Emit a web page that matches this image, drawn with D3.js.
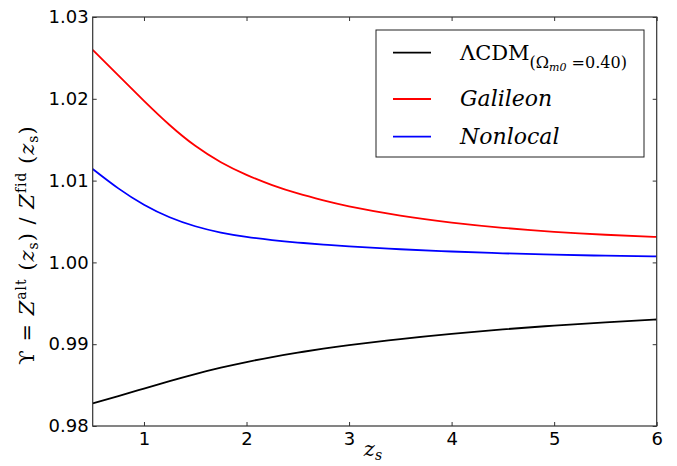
<!DOCTYPE html>
<html>
<head>
<meta charset="utf-8">
<script src="https://cdn.jsdelivr.net/npm/d3@7"></script>
<style>
  html, body { margin: 0; padding: 0; background: #fff; }
  svg { display: block; }
</style>
</head>
<body>
<svg id="chart" width="677" height="466"></svg>
<script>
const zs = [0.5, 0.75, 1, 1.25, 1.5, 1.75, 2, 2.25, 2.5, 2.75, 3, 3.5, 4, 4.5, 5, 5.5, 6];
const lcdm = [0.98278, 0.98366, 0.98458, 0.98549, 0.98635, 0.98713, 0.98782, 0.98843, 0.98897, 0.98945, 0.98988, 0.99063, 0.99127, 0.99181, 0.99227, 0.99267, 0.99302];
const galileon = [1.02597, 1.02285, 1.01975, 1.01680, 1.01425, 1.01225, 1.01070, 1.00945, 1.00843, 1.00758, 1.00686, 1.00572, 1.00487, 1.00423, 1.00374, 1.00338, 1.00311];
const nonlocal = [1.01142, 1.00905, 1.00705, 1.00552, 1.00442, 1.00365, 1.00312, 1.00273, 1.00243, 1.00218, 1.00197, 1.00161, 1.00133, 1.00111, 1.00094, 1.00082, 1.00074];
const xTicks = [1, 2, 3, 4, 5, 6];
const yTicks = [0.98, 0.99, 1.00, 1.01, 1.02, 1.03];
const legendLabels = ["ΛCDM", "Galileon", "Nonlocal"];

const svg = d3.select("#chart");
const L = 92.7, R = 656.7, T = 17, B = 426;
const x = d3.scaleLinear().domain([0.5, 6]).range([L, R]);
const y = d3.scaleLinear().domain([0.98, 1.03]).range([B, T]);

const series = [
  {vals: lcdm, color: "#000000"},
  {vals: galileon, color: "#ff0000"},
  {vals: nonlocal, color: "#0000ff"}
];

svg.append("clipPath").attr("id", "clip").append("rect")
  .attr("x", L).attr("y", T).attr("width", R - L).attr("height", B - T);

const line = d3.line().x(d => x(d[0])).y(d => y(d[1])).curve(d3.curveNatural);
const g = svg.append("g").attr("clip-path", "url(#clip)");
series.forEach(s => {
  g.append("path")
    .datum(zs.map((z, i) => [z, s.vals[i]]))
    .attr("d", line)
    .attr("fill", "none")
    .attr("stroke", s.color)
    .attr("stroke-width", 1.8);
});

const fmt = d3.format(".2f");
const axB = d3.axisBottom(x).tickValues(xTicks).tickSizeInner(-4).tickSizeOuter(0).tickPadding(6).tickFormat(d3.format("d"));
const axT = d3.axisTop(x).tickValues(xTicks).tickSizeInner(-4).tickSizeOuter(0).tickFormat("");
const axL = d3.axisLeft(y).tickValues(yTicks).tickSizeInner(-4).tickSizeOuter(0).tickPadding(4).tickFormat(fmt);
const axR = d3.axisRight(y).tickValues(yTicks).tickSizeInner(-4).tickSizeOuter(0).tickFormat("");

function styleAxis(sel) {
  sel.select(".domain").attr("stroke", "none");
  sel.selectAll(".tick line").attr("stroke", "#333").attr("stroke-width", 1);
  sel.selectAll("text").attr("font-family", "DejaVu Sans").attr("font-size", 18).attr("fill", "#000");
}
svg.append("g").attr("transform", `translate(0,${B})`).call(axB).call(styleAxis);
svg.append("g").attr("transform", `translate(0,${T})`).call(axT).call(styleAxis);
svg.append("g").attr("transform", `translate(${L},0)`).call(axL).call(styleAxis);
svg.append("g").attr("transform", `translate(${R},0)`).call(axR).call(styleAxis);

svg.append("rect").attr("x", L).attr("y", T).attr("width", R - L).attr("height", B - T)
  .attr("fill", "none").attr("stroke", "#333").attr("stroke-width", 1.2);

// X label
const xl = svg.append("text").attr("x", 373).attr("y", 456)
  .attr("font-family", "DejaVu Serif").attr("font-size", 21).attr("text-anchor", "middle");
xl.append("tspan").attr("font-style", "italic").text("z");
xl.append("tspan").attr("font-style", "italic").attr("font-size", 14).attr("dy", 4).text("s");

// Y label
const fs = 21;
const yl = svg.append("text")
  .attr("transform", "translate(34,245) rotate(-90)")
  .attr("font-family", "DejaVu Serif").attr("font-size", fs)
  .attr("letter-spacing", 1).attr("text-anchor", "middle");
const parts = [
  ["ϒ = ", "normal", 1, 0],
  ["Z", "italic", 1, 0],
  ["alt", "normal", 0.66, -0.4],
  [" (", "normal", 1, 0.4],
  ["z", "italic", 1, 0],
  ["s", "normal", 0.66, 0.2],
  [") / ", "normal", 1, -0.2],
  ["Z", "italic", 1, 0],
  ["fid", "normal", 0.66, -0.4],
  [" (", "normal", 1, 0.4],
  ["z", "italic", 1, 0],
  ["s", "normal", 0.66, 0.2],
  [")", "normal", 1, -0.2]
];
parts.forEach(p => {
  yl.append("tspan").attr("font-style", p[1]).attr("font-size", fs * p[2]).attr("dy", fs * p[3]).text(p[0]);
});

// Legend
const lg = svg.append("g");
lg.append("rect").attr("x", 376).attr("y", 30).attr("width", 268).attr("height", 127)
  .attr("fill", "#fff").attr("stroke", "#222").attr("stroke-width", 1);
const ly = [52.7, 99, 136.7];
series.forEach((s, i) => {
  lg.append("line").attr("x1", 393).attr("x2", 431).attr("y1", ly[i]).attr("y2", ly[i])
    .attr("stroke", s.color).attr("stroke-width", 1.8);
  const t = lg.append("text").attr("x", 460).attr("y", ly[i] + 7)
    .attr("font-family", "DejaVu Serif").attr("font-size", 21);
  if (i === 0) {
    t.append("tspan").text(legendLabels[i]);
    t.append("tspan").attr("font-size", 16).attr("dy", 8).text("(Ω");
    t.append("tspan").attr("font-size", 11).attr("font-style", "italic").attr("dy", 3).text("m0");
    t.append("tspan").attr("font-size", 16).attr("dy", -3).text(" =0.40)");
  } else {
    t.attr("font-style", "italic").attr("font-size", 22).text(legendLabels[i]);
  }
});
</script>
</body>
</html>
